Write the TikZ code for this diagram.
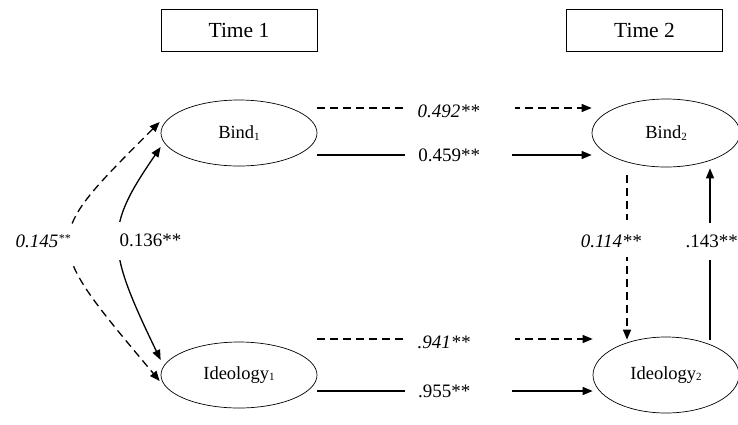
\documentclass[tikz,border=0pt]{standalone}
\usepackage{fontspec}
\setmainfont{Liberation Serif}
\usetikzlibrary{arrows.meta,shapes.geometric,calc}
\newcommand\lsub[1]{\raisebox{-1.5pt}{\fontsize{11}{11}\selectfont #1}}
\begin{document}
\begin{tikzpicture}[x=1pt,y=-1pt,
  timebox/.style={draw, line width=0.9pt, minimum width=156pt, minimum height=42pt, inner sep=0, font=\fontsize{21.5}{24}\selectfont},
  latent/.style={draw, ellipse, line width=0.7pt, inner sep=0, font=\fontsize{18.5}{22}\selectfont},
  conn/.style={line width=1.3pt, -{Triangle[length=10pt,width=8pt]}},
  dconn/.style={conn, dash pattern=on 8pt off 5pt},
  biconn/.style={line width=1.3pt, {Triangle[length=10pt,width=8pt]}-{Triangle[length=10pt,width=8pt]}},
  gap/.style={fill=white, inner sep=0},
  lab/.style={font=\fontsize{19}{22}\selectfont, inner sep=0},
]
\useasboundingbox (0,0) rectangle (738,424);

\node[timebox] (t1) at (239,30) {Time 1};
\node[timebox] (t2) at (644.5,30) {Time 2};

\node[latent, minimum width=156pt, minimum height=66pt] (b1) at (239,133) {Bind\lsub{1}};
\node[latent, minimum width=148pt, minimum height=68pt] (b2) at (666,133) {Bind\lsub{2}};
\node[latent, minimum width=156pt, minimum height=66pt] (i1) at (239,375) {Ideology\lsub{1}};
\node[latent, minimum width=146pt, minimum height=76pt] (i2) at (666,375) {Ideology\lsub{2}};

% horizontal paths Bind
\draw[dconn] ([yshift=25pt]b1.east) --
  node[gap, pos=0.516, minimum width=112pt, minimum height=6pt]{}
  node[lab, pos=0.516, anchor=west, xshift=-42pt, yshift=-3.5pt]{\textit{0.492**}}
  ([yshift=25pt]b2.west);
\draw[conn] ([yshift=-22pt]b1.east) --
  node[gap, pos=0.515, minimum width=107pt, minimum height=6pt]{}
  node[lab, pos=0.515, anchor=west, xshift=-41pt]{0.459**}
  ([yshift=-22pt]b2.west);

% horizontal paths Ideology
\draw[dconn] ([yshift=36pt]i1.east) --
  node[gap, pos=0.514, minimum width=112pt, minimum height=6pt]{}
  node[lab, pos=0.514, anchor=west, xshift=-42pt, yshift=-3.5pt]{\textit{.941**}}
  ([yshift=36pt]i2.west);
\draw[conn] ([yshift=-16pt]i1.east) --
  node[gap, pos=0.513, minimum width=107pt, minimum height=6pt]{}
  node[lab, pos=0.513, anchor=west, xshift=-41pt]{.955**}
  ([yshift=-16pt]i2.west);

% vertical paths at time 2
\draw[dconn] ([xshift=-39pt,yshift=-8pt]b2.south) --
  node[gap, pos=0.385, minimum width=6pt, minimum height=37pt]{}
  node[lab, pos=0.385, xshift=-16pt, yshift=-2.5pt]{\textit{0.114**}}
  ([xshift=-39pt,yshift=-3pt]i2.north);
\draw[conn] ([xshift=44pt,yshift=-3pt]i2.north) --
  node[gap, pos=0.573, minimum width=6pt, minimum height=37pt]{}
  node[lab, pos=0.573, anchor=west, xshift=-25pt]{.143**}
  ([xshift=44pt,yshift=-1pt]b2.south);

% correlations at time 1
\draw[biconn, dash pattern=on 8pt off 5pt] ([xshift=-1pt,yshift=11pt]b1.west) .. controls (40,242) and (40,238) ..
  node[gap, pos=0.5, minimum width=8pt, minimum height=38pt]{}
  node[lab, pos=0.5, anchor=east, xshift=1pt, yshift=2pt]{\textit{0.145}\raisebox{4.5pt}{\fontsize{12}{12}\selectfont\textit{**}}}
  ([xshift=-1pt,yshift=-6pt]i1.west);
\draw[biconn] ([yshift=-14pt]b1.west) .. controls (105,228) and (105,245) ..
  node[gap, pos=0.5, minimum width=8pt, minimum height=38pt]{}
  node[lab, pos=0.5, anchor=west, xshift=0pt]{0.136**}
  ([yshift=15pt]i1.west);
\end{tikzpicture}
\end{document}
